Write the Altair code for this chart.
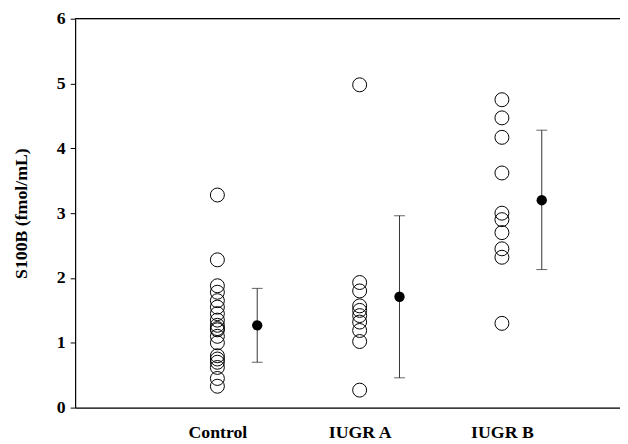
import altair as alt
import pandas as pd

groups = ["Control", "IUGR A", "IUGR B"]
group_pos = [1, 2, 3]
control_vals = [3.28, 2.28, 1.88, 1.78, 1.65, 1.55, 1.45, 1.35, 1.27, 1.22, 1.2,
                1.1, 1.0, 0.8, 0.75, 0.7, 0.62, 0.45, 0.33]
iugr_a_vals = [4.98, 1.93, 1.8, 1.57, 1.5, 1.42, 1.32, 1.19, 1.02, 0.27]
iugr_b_vals = [4.75, 4.47, 4.17, 3.62, 3.0, 2.9, 2.7, 2.45, 2.32, 1.3]
means = [1.27, 1.71, 3.2]
err_low = [0.70, 0.46, 2.13]
err_high = [1.84, 2.96, 4.28]
mean_offset = 0.28

pts = []
for g, p, vals in zip(groups, group_pos, [control_vals, iugr_a_vals, iugr_b_vals]):
    for v in vals:
        pts.append({"group": g, "x": p, "v": v})
pts = pd.DataFrame(pts)
summ = pd.DataFrame({"group": groups, "x": [p + mean_offset for p in group_pos],
                     "mean": means, "lo": err_low, "hi": err_high})

serif = "Liberation Serif"
xs = alt.Scale(domain=[0, 3.83], nice=False, zero=False)
ys = alt.Scale(domain=[0, 6], nice=False)

label_expr = "datum.value == 1 ? 'Control' : datum.value == 2 ? 'IUGR A' : 'IUGR B'"

xaxis = alt.Axis(values=group_pos, labelExpr=label_expr, ticks=False, grid=False,
                 title=None, labelFont=serif, labelFontWeight="bold", labelFontSize=18,
                 labelColor="black", labelPadding=16, domainColor="black", domainWidth=1.2)
yaxis = alt.Axis(values=[0, 1, 2, 3, 4, 5, 6], format="d", grid=False, title="S100B (fmol/mL)",
                 titleFont=serif, titleFontWeight="bold", titleFontSize=18, titleColor="black",
                 titlePadding=26, labelFont=serif, labelFontWeight="bold", labelFontSize=18,
                 labelColor="black", labelPadding=5, tickSize=5, tickColor="black",
                 domainColor="black", domainWidth=1.2)

circles = alt.Chart(pts).mark_point(shape="circle", filled=False, size=200,
                                    color="black", strokeWidth=1, opacity=1).encode(
    x=alt.X("x:Q", scale=xs, axis=xaxis),
    y=alt.Y("v:Q", scale=ys, axis=yaxis),
)

base = alt.Chart(summ)
bars = base.mark_rule(color="#333333", strokeWidth=1).encode(
    x=alt.X("x:Q", scale=xs), y=alt.Y("lo:Q", scale=ys), y2="hi:Q")
cap_lo = base.mark_tick(orient="horizontal", size=11, thickness=1, color="#222222").encode(
    x=alt.X("x:Q", scale=xs), y=alt.Y("lo:Q", scale=ys))
cap_hi = base.mark_tick(orient="horizontal", size=11, thickness=1, color="#222222").encode(
    x=alt.X("x:Q", scale=xs), y=alt.Y("hi:Q", scale=ys))
dots = base.mark_circle(size=110, color="black", opacity=1).encode(
    x=alt.X("x:Q", scale=xs), y=alt.Y("mean:Q", scale=ys))

top = alt.Chart(pd.DataFrame({"t": [6]})).mark_rule(color="black", strokeWidth=1.2).encode(
    y=alt.Y("t:Q", scale=ys))

chart = alt.layer(circles, bars, cap_lo, cap_hi, dots, top).properties(
    width=552, height=394,
    autosize=alt.AutoSizeParams(type="none"),
    padding={"left": 68, "top": 8, "right": 0, "bottom": 34},
).configure_view(stroke=None).configure(background="white")

chart.save("out.html", embed_options={"renderer": "svg", "actions": False})
